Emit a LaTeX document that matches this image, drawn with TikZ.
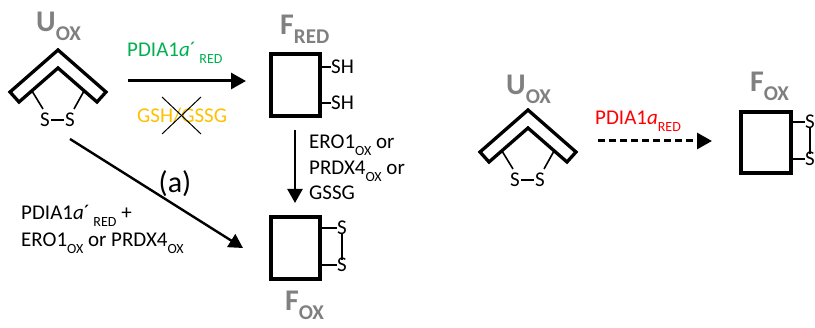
\documentclass[tikz,border=0pt]{standalone}
\usepackage{fontspec}
\setmainfont{Carlito}
\usetikzlibrary{arrows.meta}
\definecolor{titlegray}{RGB}{128,128,128}
\definecolor{pgreen}{RGB}{0,176,80}
\definecolor{porange}{RGB}{255,192,0}
\definecolor{pred}{RGB}{255,0,0}
\newcommand\sbs[1]{\raisebox{-6.5pt}{\fontsize{14}{14}\selectfont #1}}
\newcommand\ttl[2]{{\fontsize{30}{30}\selectfont\bfseries #1}\raisebox{-9pt}{\fontsize{21}{21}\selectfont\bfseries #2}}
\begin{document}
\begin{tikzpicture}[x=1pt,y=-1pt,
  every node/.style={font=\fontsize{21}{26}\selectfont, inner sep=0pt},
  band/.style={line width=3.3pt, line join=miter},
  leg/.style={line width=1.6pt},
  boxst/.style={line width=4pt},
  tick/.style={line width=1.6pt},
  title/.style={text=titlegray, anchor=base west},
  lbl/.style={anchor=base west},
  arr/.style={-{Triangle[length=15pt,width=16pt]}, line width=3pt},
  arrthin/.style={-{Triangle[length=14pt,width=15pt]}, line width=2.4pt},
  pics/chevron/.style={code={
    \draw[band] (-48,42) -- (0,0) -- (48,42) -- (39,52) -- (0,18) -- (-39,52) -- cycle;
    \draw[leg] (-26,41) -- (-15,59);
    \draw[leg] (26,41) -- (16,59);
    \node (-s1) at (-13,70) {S};
    \node (-s2) at (12,70) {S};
    \draw[line width=2.8pt] (-7,70) -- (6,70);
  }}
]
\useasboundingbox (0,0) rectangle (815,328);
\clip (0,0) rectangle (815,328);

% ---------- left part ----------
\node[title] (uoxA) at (36,32) {\ttl{U}{OX}};
\pic (chA) at (58,50) {chevron};

\node[title] (fred) at (280,35) {\ttl{F}{RED}};
\draw[boxst] (271,54.5) rectangle (319.5,116.5);
\coordinate (fredR1) at (321.5,67);
\coordinate (fredR2) at (321.5,103);
\node[anchor=west] (sh1) at (331,67) {SH};
\node[anchor=west] (sh2) at (331,103) {SH};
\draw[tick] (fredR1) -- (sh1.west);
\draw[tick] (fredR2) -- (sh2.west);

\draw[boxst] (271,217) rectangle (319.5,279.5);
\coordinate (foxR1) at (321.5,228);
\coordinate (foxR2) at (321.5,265);
\node (fs1) at (342,228) {S};
\node (fs2) at (342,265) {S};
\draw[tick] (foxR1) -- (fs1.west);
\draw[tick] (foxR2) -- (fs2.west);
\draw[tick] ([yshift=2pt]fs1.south) -- ([yshift=-2pt]fs2.north);
\node[title] (foxB) at (285,311) {\ttl{F}{OX}};

% green arrow
\coordinate (g1) at (128,81);
\coordinate (g2) at (246,81);
\draw[arr] (g1) -- (g2);
\node[lbl, text=pgreen] (lg) at (127,57) {PDIA1\textit{a}´\,\sbs{RED}};
\node[lbl, text=porange] (lo) at (137,123) {GSH/GSSG};
\coordinate (x1) at (162,97);
\coordinate (x2) at (201,134);
\coordinate (x3) at (201,97);
\coordinate (x4) at (162,134);
\draw[line width=1pt] (x1) -- (x2);
\draw[line width=1pt] (x3) -- (x4);

% vertical arrow
\coordinate (v1) at (295,130);
\coordinate (v2) at (295,203);
\draw[arrthin] (v1) -- (v2);
\node[lbl] (lv1) at (309,149) {ERO1\sbs{OX} or};
\node[lbl] (lv2) at (309,175) {PRDX4\sbs{OX} or};
\node[lbl] (lv3) at (309,200) {GSSG};

% diagonal arrow
\coordinate (d1) at (70,139);
\coordinate (d2) at (243,248);
\draw[arrthin] (d1) -- (d2);
\node[font=\fontsize{30}{30}\selectfont] (la) at (175,184) {(a)};
\node[lbl] (ll1) at (21,220) {PDIA1\textit{a}´\,\sbs{RED} +};
\node[lbl] (ll2) at (21,247) {ERO1\sbs{OX} or PRDX4\sbs{OX}};

% ---------- right part ----------
\node[title] (uoxR) at (506,95) {\ttl{U}{OX}};
\pic (chB) at (528,110) {chevron};

\coordinate (r1) at (598,141);
\coordinate (r2) at (712,141);
\draw[arr, dash pattern=on 7pt off 4pt] (r1) -- (r2);
\node[lbl, text=pred] (lr) at (595,125) {PDIA1\textit{a}\sbs{RED}};

\node[title] (foxR) at (750,92) {\ttl{F}{OX}};
\draw[boxst] (741,112) rectangle (791,173);
\coordinate (rbR1) at (793,122);
\coordinate (rbR2) at (793,159);
\node (rs1) at (810,122) {S};
\node (rs2) at (810,159) {S};
\draw[tick] (rbR1) -- (rs1.west);
\draw[tick] (rbR2) -- (rs2.west);
\draw[tick] ([yshift=2pt]rs1.south) -- ([yshift=-2pt]rs2.north);
\end{tikzpicture}
\end{document}
